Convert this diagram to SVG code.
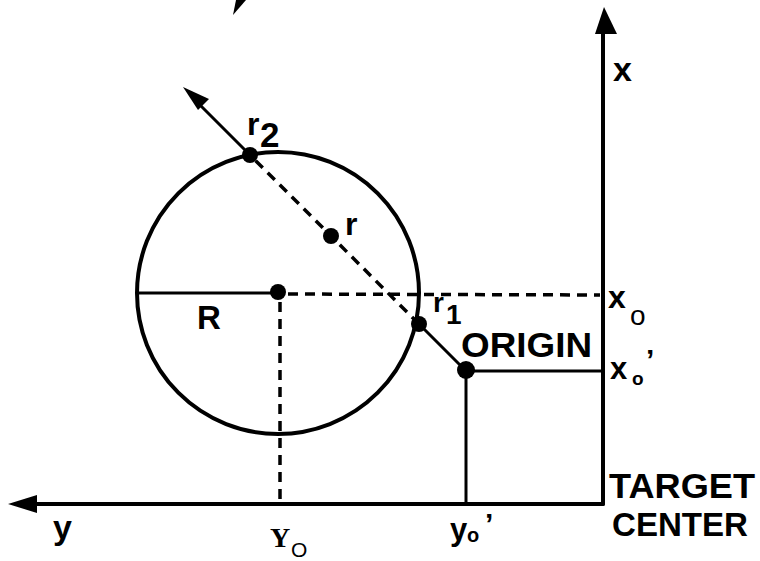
<svg xmlns="http://www.w3.org/2000/svg" width="760" height="561" viewBox="0 0 760 561">
<style>
.ln{stroke:#000;stroke-width:4;fill:none;stroke-linecap:round}
.th{stroke:#000;stroke-width:3;fill:none}
.ds{stroke:#000;stroke-width:3.5;fill:none;stroke-dasharray:10 7}
.dot{fill:#000}
.t{font-family:"Liberation Sans",Arial,sans-serif;font-weight:bold;fill:#000}
.s{font-family:"Liberation Serif","Times New Roman",serif;fill:#000}
.n{font-family:"Liberation Sans",Arial,sans-serif;font-weight:normal;fill:#000}
</style>
<rect width="760" height="561" fill="#fff"/>
<g id="connectors">
<line class="ln" x1="603" y1="504" x2="603" y2="32"/>
<polygon points="604,7 595,34 617,34" fill="#000"/>
<line class="ln" x1="603" y1="504" x2="34" y2="504"/>
<polygon points="8,504 37,495 37,513" fill="#000"/>
<circle class="ln" cx="278" cy="293" r="141"/>
<line class="th" x1="137" y1="293" x2="278" y2="293"/>
<line class="ds" x1="288" y1="294" x2="600" y2="295"/>
<line class="ds" x1="280" y1="302" x2="280" y2="502"/>
<line class="th" x1="465" y1="370" x2="419" y2="324"/>
<line class="ds" x1="419" y1="324" x2="250" y2="155"/>
<line class="th" x1="250" y1="155" x2="198" y2="103"/>
<polygon points="183,87 209,99 198,110" fill="#000"/>
<line class="th" x1="465" y1="371" x2="603" y2="371"/>
<line class="th" x1="466" y1="371" x2="466" y2="504"/>
<polygon points="233,15 236,0 246,0" fill="#000"/>
</g>
<g id="points">
<circle class="dot" cx="250" cy="155" r="8"/>
<circle class="dot" cx="331" cy="236" r="8"/>
<circle class="dot" cx="278" cy="292" r="8"/>
<circle class="dot" cx="419" cy="324" r="8"/>
<circle class="dot" cx="466" cy="370" r="9"/>
</g>
<g id="labels">
<text class="t" x="613" y="81" font-size="34">x</text>
<text class="t" x="247" y="135" font-size="32">r</text>
<text class="t" x="260" y="147" font-size="35">2</text>
<text class="t" x="345" y="235" font-size="32">r</text>
<text class="t" x="197" y="329" font-size="33">R</text>
<text class="t" x="433" y="312" font-size="28">r</text>
<text class="t" x="446" y="324" font-size="28">1</text>
<text class="t" x="461" y="357" font-size="35" textLength="131" lengthAdjust="spacingAndGlyphs">ORIGIN</text>
<text class="t" x="608" y="308" font-size="32">x</text>
<text class="n" x="630" y="325" font-size="28">o</text>
<text class="t" x="610" y="379" font-size="31">x</text>
<text class="t" x="632" y="385" font-size="19">o</text>
<text class="t" x="646" y="370" font-size="30">’</text>
<text class="t" x="609" y="498" font-size="35" textLength="146" lengthAdjust="spacingAndGlyphs">TARGET</text>
<text class="t" x="612" y="536" font-size="34" textLength="136" lengthAdjust="spacingAndGlyphs">CENTER</text>
<text class="t" x="53" y="539" font-size="34">y</text>
<text class="s" x="270" y="547" font-size="28" font-weight="bold">Y</text>
<text class="n" x="291" y="557" font-size="21">O</text>
<text class="t" x="450" y="540" font-size="31">y</text>
<text class="t" x="467" y="542" font-size="20">o</text>
<text class="t" x="485" y="534" font-size="30">’</text>
</g>
</svg>
